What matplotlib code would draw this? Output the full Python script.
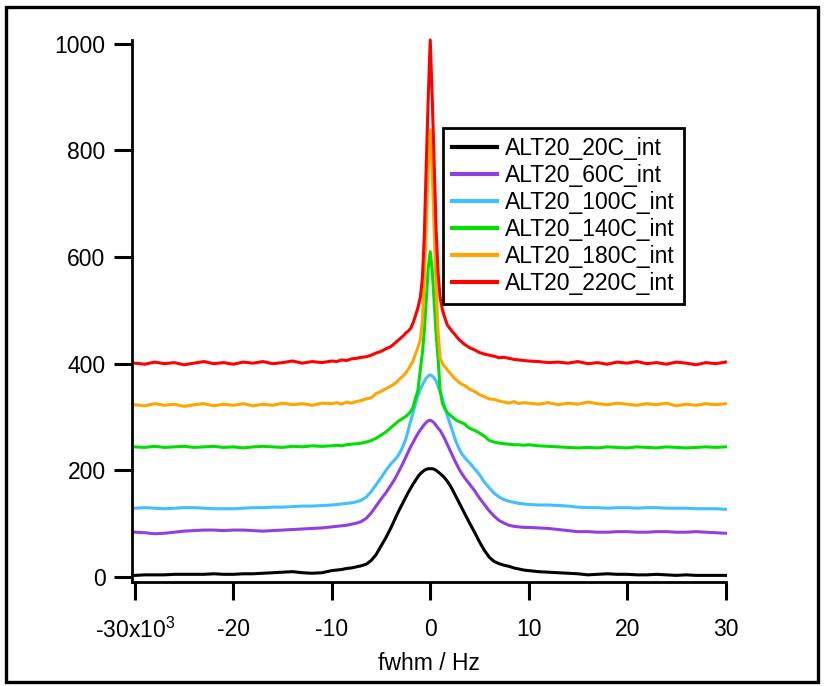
import matplotlib
matplotlib.use("Agg")
import matplotlib.pyplot as plt
from matplotlib.patches import Rectangle

plt.rcParams['font.family'] = ['Liberation Sans', 'DejaVu Sans']

# x positions in units of 10^3 Hz
x_k = [-30, -29, -28, -27, -26, -25, -24, -23, -22, -21, -20, -19, -18, -17, -16, -15, -14, -13, -12, -11, -10,
       -9.5, -9, -8.5, -8, -7.5, -7, -6.5, -6, -5.5, -5, -4.5, -4,
       -3.75, -3.5, -3.25, -3, -2.75, -2.5, -2.25, -2, -1.75, -1.5, -1.25,
       -1, -0.8, -0.6, -0.4, -0.2, 0, 0.2, 0.4, 0.6, 0.8, 1,
       1.25, 1.5, 1.75, 2, 2.25, 2.5, 2.75, 3, 3.25, 3.5, 3.75,
       4, 4.5, 5, 5.5, 6, 6.5, 7, 7.5, 8, 8.5, 9, 9.5,
       10, 11, 12, 13, 14, 15, 16, 17, 18, 19, 20, 21, 22, 23, 24, 25, 26, 27, 28, 29, 30]

alt20_20c = [3, 4, 4, 4, 5, 5, 5, 5, 6, 5, 5, 6, 6, 7, 8, 9, 10, 8, 7, 8, 12,
             13, 14, 16, 17, 19, 21, 24, 31, 42, 58, 74, 92,
             102, 112, 122, 131, 140, 149, 158, 166, 174, 181, 188,
             194, 197, 200, 202, 203, 203, 203, 202, 200, 197, 194,
             190, 185, 179, 172, 164, 155, 146, 137, 128, 119, 110,
             101, 84, 66, 50, 37, 29, 25, 22, 20, 17, 15, 13,
             12, 10, 9, 8, 7, 6, 4, 5, 6, 5, 5, 4, 4, 5, 4, 3, 4, 3, 3, 3, 3]

alt20_60c = [84, 83, 81, 82, 84, 86, 87, 88, 88, 87, 88, 88, 87, 86, 87, 88, 89, 90, 91, 92, 94,
             95, 96, 97, 99, 101, 104, 110, 120, 133, 146, 158, 172,
             179, 187, 196, 205, 214, 224, 234, 244, 252, 261, 269,
             276, 281, 286, 290, 293, 294, 292, 289, 284, 279, 275,
             267, 258, 248, 238, 228, 218, 209, 200, 193, 186, 180,
             174, 162, 148, 136, 124, 114, 106, 101, 97, 95, 94, 93,
             93, 92, 91, 89, 87, 85, 85, 84, 84, 85, 85, 84, 84, 85, 85, 84, 84, 85, 84, 83, 82]

alt20_100c = [129, 130, 129, 128, 129, 130, 130, 129, 128, 128, 128, 129, 130, 130, 131, 131, 132, 133, 133, 134, 135,
              136, 137, 138, 139, 141, 144, 150, 160, 173, 186, 200, 212,
              217, 222, 228, 236, 246, 258, 274, 292, 308, 325, 340,
              352, 360, 367, 373, 377, 379, 377, 373, 367, 358, 348,
              333, 318, 302, 288, 274, 260, 248, 238, 230, 224, 219,
              214, 203, 192, 178, 167, 157, 150, 145, 142, 140, 138, 137,
              136, 135, 135, 134, 133, 131, 130, 130, 129, 130, 130, 129, 130, 130, 129, 129, 129, 128, 128, 128, 127]

alt20_140c = [244, 243, 245, 243, 244, 245, 243, 244, 245, 243, 244, 242, 244, 245, 244, 243, 245, 244, 246, 245, 246,
              247, 246, 248, 249, 250, 251, 253, 256, 260, 266, 272, 280,
              284, 288, 292, 295, 298, 301, 305, 310, 318, 335, 350,
              390, 420, 460, 520, 580, 610, 575, 515, 455, 410, 350,
              325, 315, 308, 304, 300, 296, 293, 291, 289, 287, 282,
              279, 275, 270, 264, 256, 253, 251, 250, 249, 248, 248, 247,
              248, 246, 245, 244, 243, 242, 243, 242, 244, 243, 242, 244, 243, 242, 244, 243, 242, 243, 244, 243, 244]

alt20_180c = [323, 321, 325, 322, 324, 320, 323, 325, 321, 324, 322, 325, 321, 324, 322, 326, 323, 325, 322, 326, 325,
              327, 324, 328, 326, 329, 331, 334, 336, 344, 348, 353, 358,
              361, 364, 369, 373, 377, 382, 389, 397, 405, 418, 430,
              445, 480, 560, 660, 770, 838, 760, 650, 540, 460, 410,
              400, 394, 388, 383, 377, 372, 368, 364, 361, 359, 356,
              352, 348, 342, 338, 334, 333, 330, 328, 326, 329, 325, 327,
              326, 324, 327, 323, 326, 324, 328, 325, 323, 326, 324, 322, 325, 323, 326, 321, 324, 322, 325, 323, 325]

alt20_220c = [401, 399, 403, 400, 402, 398, 401, 404, 400, 402, 399, 403, 401, 404, 400, 402, 405, 401, 404, 402, 405,
              404, 407, 406, 409, 410, 412, 413, 416, 420, 423, 428, 432,
              436, 440, 444, 448, 452, 457, 461, 466, 476, 490, 505,
              525, 560, 640, 776, 900, 1007, 900, 776, 650, 570, 525,
              500, 485, 472, 466, 460, 455, 449, 444, 440, 436, 433,
              430, 426, 421, 418, 416, 414, 411, 412, 410, 408, 407, 406,
              405, 404, 402, 403, 401, 404, 400, 402, 399, 403, 401, 404, 400, 402, 399, 403, 401, 398, 402, 400, 403]

series_names = ['ALT20_20C_int', 'ALT20_60C_int', 'ALT20_100C_int',
                'ALT20_140C_int', 'ALT20_180C_int', 'ALT20_220C_int']
series_values = [alt20_20c, alt20_60c, alt20_100c, alt20_140c, alt20_180c, alt20_220c]
series_colors = ['#000000', '#9040E0', '#40C0FF', '#00E000', '#FFA500', '#FF0000']

x_ticks = [-30000, -20000, -10000, 0, 10000, 20000, 30000]
x_tick_labels = [r'-30x10$^{\mathregular{3}}$', '-20', '-10', '0', '10', '20', '30']
y_ticks = [0, 200, 400, 600, 800, 1000]
y_tick_labels = ['0', '200', '400', '600', '800', '1000']

FS = 16.5
W, H = 824, 686
fig = plt.figure(figsize=(W / 100, H / 100), dpi=100)
fig.patch.set_facecolor('white')

# outer frame
fig.patches.append(Rectangle((6 / W, (H - 682) / H), (818 - 6) / W, (682 - 7) / H,
                             transform=fig.transFigure, fill=False, edgecolor='black',
                             linewidth=2.4, zorder=0))

ax = fig.add_axes([132 / W, (H - 582) / H, (726 - 132) / W, (582 - 40) / H])
x_hz = [v * 1000 for v in x_k]
for name, vals, col in zip(series_names, series_values, series_colors):
    ax.plot(x_hz, vals, color=col, linewidth=2.2, label=name, clip_on=False,
            solid_joinstyle='round')

ax.set_xlim(-30300, 30050)
ax.set_ylim(-9.4, 1007)
for s in ['top', 'right']:
    ax.spines[s].set_visible(False)
for s in ['left', 'bottom']:
    ax.spines[s].set_linewidth(2.0)

ax.set_xticks(x_ticks)
ax.set_xticklabels(x_tick_labels)
ax.set_yticks(y_ticks)
ax.set_yticklabels(y_tick_labels)
ax.tick_params(axis='both', direction='out', length=13, width=2.2, labelsize=FS, colors='black')
ax.tick_params(axis='x', pad=13)
ax.tick_params(axis='y', pad=6)
ax.set_xlabel('fwhm / Hz', fontsize=FS, labelpad=6)

leg = ax.legend(loc='upper left', bbox_to_anchor=(443 / W, (H - 128) / H),
                bbox_transform=fig.transFigure, frameon=True, fancybox=False,
                framealpha=1.0, fontsize=FS, handlelength=1.95, handletextpad=0.35,
                labelspacing=0.17, borderpad=0.4, borderaxespad=0)
leg.get_frame().set_edgecolor('black')
leg.get_frame().set_linewidth(2.0)
for lh in leg.get_lines():
    lh.set_linewidth(3)

fig.savefig('out.png', dpi=100, facecolor='white')
